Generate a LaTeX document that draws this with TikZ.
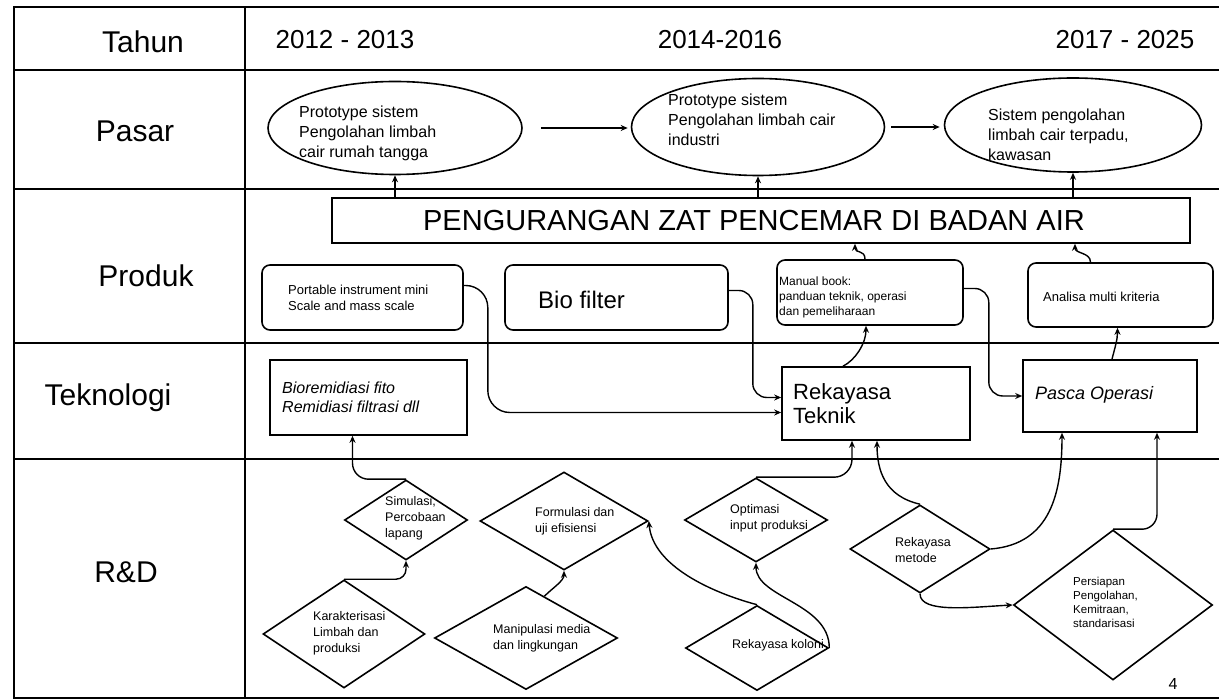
\documentclass[tikz,border=0pt]{standalone}
\usepackage{fontspec}
\setmainfont{Liberation Sans}
\usetikzlibrary{shapes.geometric,arrows.meta,calc}
\begin{document}
\begin{tikzpicture}[x=1pt,y=-1pt,
  grid/.style={line width=1.6pt},
  frame/.style={line width=2.6pt},
  shapeline/.style={draw, line width=1.6pt},
  ell/.style={shapeline, ellipse, inner sep=0pt},
  dia/.style={shapeline, diamond, inner sep=0pt},
  rbox/.style={shapeline, rectangle, rounded corners=8pt, inner sep=0pt},
  sbox/.style={shapeline, rectangle, inner sep=0pt},
  arr/.style={line width=1.4pt, -{Stealth[length=7pt,width=6pt]}},
  lbl/.style={inner sep=0pt, font=\fontsize{30}{34}\selectfont},
  yr/.style={inner sep=0pt, font=\fontsize{26}{30}\selectfont},
  txt/.style={align=left, inner sep=0pt, anchor=west},
  etxt/.style={txt, font=\fontsize{16}{20}\selectfont},
  dtxt/.style={txt, font=\fontsize{12.5}{16}\selectfont},
  ptxt/.style={txt, font=\fontsize{13}{16}\selectfont},
]
\useasboundingbox (0,0) rectangle (1219,700);
\fill[white] (0,0) rectangle (1219,700);

% grid
\draw[frame] (1219,7) -- (14,7) -- (14,698) -- (1219,698);
\draw[grid] (245,7) -- (245,698);
\draw[grid] (14,70) -- (1219,70);
\draw[grid] (14,189) -- (1219,189);
\draw[grid] (14,343) -- (1219,343);
\draw[grid] (14,459) -- (1219,459);

% headings
\node[lbl] (hTahun) at (143,42) {Tahun};
\node[yr] (hY1) at (345,40) {2012 - 2013};
\node[yr] (hY2) at (720,40) {2014-2016};
\node[yr] (hY3) at (1125,40) {2017 - 2025};
\node[lbl] (hPasar) at (135,131) {Pasar};
\node[lbl] (hProduk) at (146,276) {Produk};
\node[lbl] (hTek) at (108,398) {Teknologi};
\node[lbl] (hRD) at (126,572) {R\&D};

% Pasar
\node[ell, minimum width=254pt, minimum height=93pt] (E1) at (395,128) {};
\node[etxt] (E1t) at (299,133) {Prototype sistem\\Pengolahan limbah\\cair rumah tangga};
\node[ell, minimum width=253pt, minimum height=97pt] (E2) at (758,127) {};
\node[etxt] (E2t) at (668,120) {Prototype sistem\\Pengolahan limbah cair\\industri};
\node[ell, minimum width=257pt, minimum height=94pt] (E3) at (1073,125) {};
\node[etxt] (E3t) at (988,135) {Sistem pengolahan\\limbah cair terpadu,\\kawasan};

% big box
\node[sbox, minimum width=858pt, minimum height=45pt] (BB) at (761,220.5) {};
\node[inner sep=0pt, font=\fontsize{29}{32}\selectfont] (BBt) at (754,221) {PENGURANGAN ZAT PENCEMAR DI BADAN AIR};

% Produk
\node[rbox, minimum width=201pt, minimum height=65pt] (P1) at (362.5,297.5) {};
\node[ptxt] (P1t) at (288,298) {Portable instrument mini\\Scale and mass scale};
\node[rbox, minimum width=223pt, minimum height=65pt] (P2) at (616.5,297.5) {};
\node[txt, font=\fontsize{24}{28}\selectfont] (P2t) at (538,300) {Bio filter};
\node[rbox, minimum width=186pt, minimum height=65pt] (P3) at (870,292.5) {};
\node[txt, font=\fontsize{12}{15}\selectfont] (P3t) at (779,297) {Manual book:\\panduan teknik, operasi\\dan pemeliharaan};
\node[rbox, minimum width=185pt, minimum height=64pt] (P4) at (1120.5,295) {};
\node[ptxt] (P4t) at (1043,297) {Analisa multi kriteria};

% Teknologi
\node[sbox, minimum width=197pt, minimum height=75pt] (T1) at (368.5,397.5) {};
\node[txt, font=\fontsize{16}{19}\selectfont\itshape] (T1t) at (282,397) {Bioremidiasi fito\\Remidiasi filtrasi dll};
\node[sbox, minimum width=188pt, minimum height=73pt] (T2) at (876,403.5) {};
\node[txt, font=\fontsize{22}{24}\selectfont] (T2t) at (793,404) {Rekayasa\\Teknik};
\node[sbox, minimum width=174pt, minimum height=72pt] (T3) at (1110,396) {};
\node[txt, font=\fontsize{18}{22}\selectfont\itshape] (T3t) at (1035,395) {Pasca Operasi};

% R&D diamonds
\node[dia, minimum width=123pt, minimum height=80pt] (D1) at (406,520) {};
\node[dtxt] (D1t) at (385,518) {Simulasi,\\Percobaan\\lapang};
\node[dia, minimum width=162pt, minimum height=108pt] (D2) at (344,634) {};
\node[dtxt] (D2t) at (313,633) {Karakterisasi\\Limbah dan\\produksi};
\node[dia, minimum width=168pt, minimum height=98pt] (D3) at (564,521) {};
\node[dtxt] (D3t) at (535,521) {Formulasi dan\\uji efisiensi};
\node[dia, minimum width=183pt, minimum height=103pt] (D4) at (526,638) {};
\node[dtxt] (D4t) at (493,638) {Manipulasi media\\dan lingkungan};
\node[dia, minimum width=143pt, minimum height=84pt] (D5) at (756,520) {};
\node[dtxt] (D5t) at (730,518) {Optimasi\\input produksi};
\node[dia, minimum width=143pt, minimum height=85pt] (D6) at (757,648) {};
\node[dtxt] (D6t) at (732,645) {Rekayasa koloni};
\node[dia, minimum width=140pt, minimum height=88pt] (D7) at (920,549) {};
\node[dtxt] (D7t) at (895,550) {Rekayasa\\metode};
\node[dia, minimum width=199pt, minimum height=150pt] (D8) at (1113,605) {};
\node[txt, font=\fontsize{11.5}{14}\selectfont] (D8t) at (1073,602) {Persiapan\\Pengolahan,\\Kemitraan,\\standarisasi};

\node[inner sep=0pt, font=\fontsize{16}{18}\selectfont] (pg) at (1173,684) {4};

% connectors: Pasar
\draw[arr, shorten <=18pt, shorten >=3pt] (E1.east) -- (E1.east -| E2.west);
\draw[arr, shorten <=6pt, shorten >=4pt] (E2.east) -- (E2.east -| E3.west);
\draw[arr] (E1.south |- BB.north) -- (E1.south);
\draw[arr] (E2.south |- BB.north) -- (E2.south);
\draw[arr] (E3.south |- BB.north) -- (E3.south);

% Produk -> big box
\draw[arr] ([xshift=-5pt]P3.north) .. controls +(0,-10) and +(0,10) .. ([xshift=94pt]BB.south);
\draw[arr] ([xshift=-30pt]P4.north) .. controls +(0,-10) and +(0,10) .. ([xshift=314pt]BB.south);

% Produk -> Teknologi
\draw[arr, rounded corners=22pt] ([yshift=12pt]P1.east) -- ++(24,0) |- ([yshift=-9pt]T2.west);
\draw[arr, rounded corners=14pt] ([yshift=7pt]P2.east) -- ++(24,0) |- ([yshift=6pt]T2.west);
\draw[arr, rounded corners=14pt] ([yshift=4pt]P3.east) -- ++(25,0) |- (T3.west);

% Teknologi -> Produk
\draw[arr] ([xshift=-33pt]T2.north) .. controls +(12,-6) and +(0,18) .. ([xshift=-4pt]P3.south);
\draw[arr] ([xshift=2pt]T3.north) .. controls +(3,-12) and +(0,12) .. ([xshift=-3pt]P4.south);

% R&D
\draw[arr, rounded corners=16pt] (D1.north) -| ([xshift=-16pt]T1.south);
\draw[arr, rounded corners=10pt] (D2.north) -| (D1.south);
\draw[arr] ($(D4.north)!0.2!(D4.east)$) .. controls +(8,-8) and +(0,10) .. (D3.south);
\draw[arr] (D6.north) .. controls +(-45,-12) and +(4,45) .. (D3.east);
\draw[arr] (D6.east) .. controls +(0,-45) and +(0,35) .. (D5.south);
\draw[arr, rounded corners=18pt] (D5.north) -| ([xshift=-24pt]T2.south);
\draw[arr] (D7.north) .. controls +(-35,-8) and +(0,30) .. ([xshift=1pt]T2.south);
\draw[arr] (D7.east) .. controls +(60,-5) and +(0,60) .. ([xshift=-48pt]T3.south);
\draw[arr, rounded corners=15pt] (D8.north) -| ([xshift=47pt]T3.south);
\draw[arr] (D7.south) .. controls +(0,20) and +(-40,2) .. (D8.west);
\end{tikzpicture}
\end{document}
